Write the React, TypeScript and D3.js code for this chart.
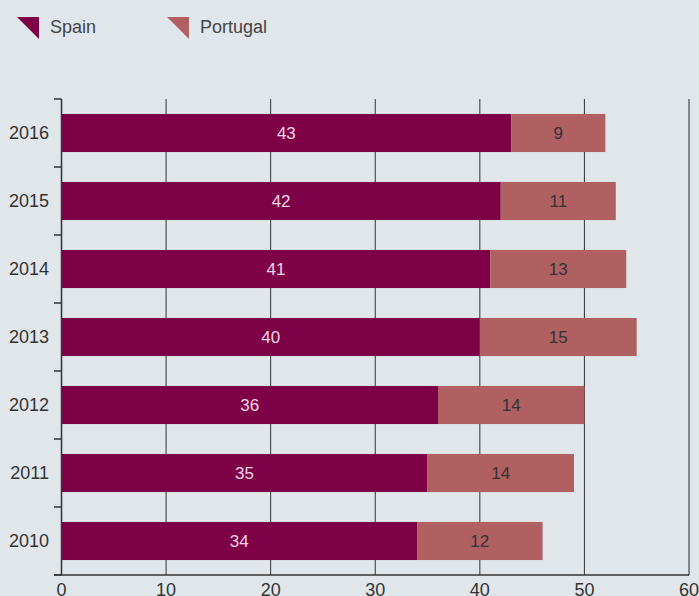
import React from "react";
import * as d3 from "d3";

const years = ["2016", "2015", "2014", "2013", "2012", "2011", "2010"];
const spain = [43, 42, 41, 40, 36, 35, 34];
const portugal = [9, 11, 13, 15, 14, 14, 12];
const xTicks = [0, 10, 20, 30, 40, 50, 60];
const seriesNames = ["Spain", "Portugal"];
const colors = ["#7e0046", "#b06060"];

const W = 699;
const H = 596;
const left = 61.5;
const right = 689;
const top = 99;
const bottom = 575;
const font = "'Liberation Sans', Arial, sans-serif";

export default function App() {
  const x = d3.scaleLinear().domain([0, 60]).range([left, right]);
  const y = d3.scaleBand().domain(years).range([top, bottom]).paddingInner(0.44).paddingOuter(0.22);
  const step = y.step();
  const boundaries = d3.range(years.length + 1).map((i) => top + i * step);

  return (
    <svg width={W} height={H} style={{ position: "absolute", left: 0, top: 0, background: "#e0e6e9" }}>
      <rect x={0} y={0} width={W} height={H} fill="#e0e6e9" />
      {/* legend */}
      {seriesNames.map((n, i) => {
        const lx = i === 0 ? 17 : 167;
        return (
          <g key={n}>
            <path d={`M${lx},17 L${lx + 22},17 L${lx + 22},39 Z`} fill={colors[i]} />
            <text x={lx + 33} y={33} fontFamily={font} fontSize={18} fill="#444">{n}</text>
          </g>
        );
      })}
      {/* gridlines */}
      {xTicks.slice(1).map((t) => (
        <line key={t} x1={x(t)} x2={x(t)} y1={top} y2={bottom}
          stroke={t === 60 ? "#666" : "#333"} strokeWidth={t === 60 ? 1.5 : 1} />
      ))}
      {/* bars */}
      {years.map((yr, i) => {
        const y0 = y(yr)!;
        const bh = y.bandwidth();
        const s = spain[i];
        const p = portugal[i];
        return (
          <g key={yr}>
            <rect x={x(0)} y={y0} width={x(s) - x(0)} height={bh} fill={colors[0]} />
            <rect x={x(s)} y={y0} width={x(s + p) - x(s)} height={bh} fill={colors[1]} />
            <text x={x(s / 2)} y={y0 + bh / 2} dy="0.35em" textAnchor="middle" fontFamily={font} fontSize={17} fill="#f3d6e6">{s}</text>
            <text x={x(s + p / 2)} y={y0 + bh / 2} dy="0.35em" textAnchor="middle" fontFamily={font} fontSize={17} fill="#333">{p}</text>
            <text x={49} y={y0 + bh / 2} dy="0.35em" textAnchor="end" fontFamily={font} fontSize={18} fill="#333">{yr}</text>
          </g>
        );
      })}
      {/* left axis */}
      <line x1={left} x2={left} y1={top} y2={bottom} stroke="#333" strokeWidth={1.5} />
      {boundaries.map((b, i) => (
        <line key={i} x1={54} x2={left} y1={b} y2={b} stroke="#333" strokeWidth={1.5} />
      ))}
      {/* bottom axis */}
      <line x1={54} x2={right} y1={bottom} y2={bottom} stroke="#333" strokeWidth={1.5} />
      {xTicks.map((t) => (
        <text key={t} x={x(t)} y={596} textAnchor="middle" fontFamily={font} fontSize={18} fill="#333">{t}</text>
      ))}
    </svg>
  );
}
